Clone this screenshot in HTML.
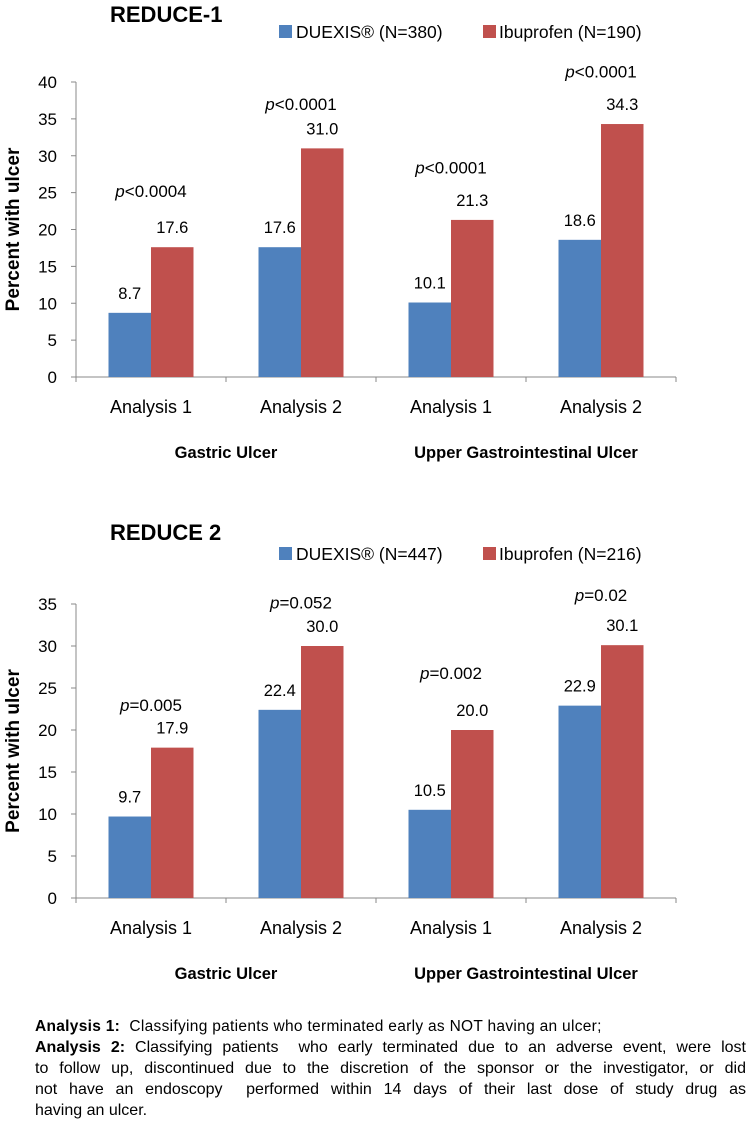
<!DOCTYPE html>
<html><head><meta charset="utf-8">
<style>
body{margin:0;background:#fff;width:750px;height:1130px;overflow:hidden;font-family:"Liberation Sans",sans-serif;}
svg{position:absolute;left:0;top:0}
#notes{position:absolute;left:35px;top:1016px;width:711px;font-size:15.5px;line-height:21px;color:#000;font-family:"Liberation Sans",sans-serif;}
#notes div{white-space:nowrap}
#notes .j{text-align:justify;text-align-last:justify;white-space:normal;font-size:16px}
</style></head><body>
<svg id="chart" width="750" height="1010"></svg>
<div id="notes">
<div style="letter-spacing:0.3px"><b>Analysis 1:</b>&nbsp; Classifying patients who terminated early as NOT having an ulcer;</div>
<div class="j"><b>Analysis 2:</b> Classifying patients&nbsp; who early terminated due to an adverse event, were lost</div>
<div class="j">to follow up, discontinued due to the discretion of the sponsor or the investigator, or did</div>
<div class="j">not have an endoscopy&nbsp; performed within 14 days of their last dose of study drug as</div>
<div style="font-size:16px">having an ulcer.</div>
</div>
<script>
const categories = ["Analysis 1","Analysis 2","Analysis 1","Analysis 2"];
const groups = ["Gastric Ulcer","Upper Gastrointestinal Ulcer"];
const r1Duexis = [8.7,17.6,10.1,18.6];
const r1Ibu = [17.6,31.0,21.3,34.3];
const r1PText = ["<0.0004","<0.0001","<0.0001","<0.0001"];
const r1PLevel = [25.2,37.0,28.4,41.4];
const r1Ticks = [0,5,10,15,20,25,30,35,40];
const r2Duexis = [9.7,22.4,10.5,22.9];
const r2Ibu = [17.9,30.0,20.0,30.1];
const r2PText = ["=0.005","=0.052","=0.002","=0.02"];
const r2PLevel = [23.0,35.2,26.8,36.1];
const r2Ticks = [0,5,10,15,20,25,30,35];

const NS="http://www.w3.org/2000/svg";
const svg=document.getElementById('chart');
function mk(tag,attrs,parent,text){const e=document.createElementNS(NS,tag);for(const k in attrs)e.setAttribute(k,attrs[k]);if(text!==undefined)e.textContent=text;(parent||svg).appendChild(e);return e;}

function drawChart(cfg){
  const g=mk('g',{});
  
  
  const x0=76,cw=150,y0=cfg.y0,ymax=cfg.ticks[cfg.ticks.length-1];
  const ys=v=>y0-(v/ymax)*(y0-cfg.yTop);
  const xc=i=>x0+cw*i+cw/2;
  let t=mk('text',{x:110,y:cfg.titleY,'font-size':22,'font-weight':'bold',fill:'#000'},g,cfg.title);
  
  const leg=mk('g',{},g);
  let r=mk('rect',{x:279,y:cfg.legY-6,width:13,height:13,fill:'#4f81bd'},leg);
  t=mk('text',{x:296,y:cfg.legY+7,'font-size':17.5,fill:'#000'},leg,cfg.leg1);
  r=mk('rect',{x:483,y:cfg.legY-6,width:13,height:13,fill:'#c0504d'},leg);
  t=mk('text',{x:499,y:cfg.legY+7,'font-size':17.5,fill:'#000'},leg,cfg.leg2);
  let l=mk('line',{x1:x0,y1:ys(ymax),x2:x0,y2:y0,stroke:'#888','stroke-width':1},g);
  cfg.ticks.forEach(v=>{
    const tk=mk('line',{x1:x0-5,y1:ys(v),x2:x0,y2:ys(v),stroke:'#888'},g);
    
    const tl=mk('text',{x:57,y:ys(v)+6,'text-anchor':'end','font-size':17,fill:'#000'},g,String(v));
    
  });
  t=mk('text',{x:0,y:0,transform:`translate(19,${(ys(ymax)+y0)/2}) rotate(-90)`,'text-anchor':'middle','font-size':19,'font-weight':'bold',fill:'#000'},g,'Percent with ulcer');
  
  l=mk('line',{x1:x0,y1:y0,x2:x0+cw*categories.length,y2:y0,stroke:'#888'},g);
  for(let i=0;i<=categories.length;i++){
    const tk=mk('line',{x1:x0+cw*i,y1:y0,x2:x0+cw*i,y2:y0+5,stroke:'#888'},g);
    
  }
  categories.forEach((c,i)=>{
    const tl=mk('text',{x:xc(i),y:y0+36,'text-anchor':'middle','font-size':18,fill:'#000'},g,c);
    
    const bw=42.5;
    const b1=mk('rect',{x:xc(i)-bw,y:ys(cfg.d[i]),width:bw,height:y0-ys(cfg.d[i]),fill:'#4f81bd'},g);
    
    const b2=mk('rect',{x:xc(i),y:ys(cfg.b[i]),width:bw,height:y0-ys(cfg.b[i]),fill:'#c0504d'},g);
    
    const v1=mk('text',{x:xc(i)-bw/2,y:ys(cfg.d[i])-14,'text-anchor':'middle','font-size':16.5,fill:'#000'},g,cfg.d[i].toFixed(1));
    
    const v2=mk('text',{x:xc(i)+bw/2,y:ys(cfg.b[i])-14,'text-anchor':'middle','font-size':16.5,fill:'#000'},g,cfg.b[i].toFixed(1));
    
    const p=mk('text',{x:xc(i),y:ys(cfg.pl[i])+6,'text-anchor':'middle','font-size':17,fill:'#000'},g);
    
    mk('tspan',{'font-style':'italic'},p,'p');mk('tspan',{},p,cfg.pt[i]);
  });
  groups.forEach((gr,j)=>{
    const gl=mk('text',{x:x0+cw*(2*j+1),y:y0+81,'text-anchor':'middle','font-size':16.5,'font-weight':'bold',fill:'#000'},g,gr);
    
  });
}
drawChart({name:'reduce-1-chart',title:'REDUCE-1',titleY:22,legY:31,leg1:'DUEXIS® (N=380)',leg2:'Ibuprofen (N=190)',y0:377,yTop:82,ticks:r1Ticks,d:r1Duexis,b:r1Ibu,pt:r1PText,pl:r1PLevel});
drawChart({name:'reduce-2-chart',title:'REDUCE 2',titleY:540,legY:553,leg1:'DUEXIS® (N=447)',leg2:'Ibuprofen (N=216)',y0:898,yTop:604,ticks:r2Ticks,d:r2Duexis,b:r2Ibu,pt:r2PText,pl:r2PLevel});
</script>
</body></html>
